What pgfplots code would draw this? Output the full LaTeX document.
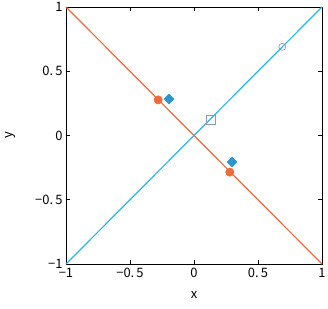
\documentclass[border=0pt]{standalone}
\usepackage{pgfplots}
\pgfplotsset{compat=1.18}
\usepackage{fontspec}
\setmainfont{Noto Sans CJK JP}
\definecolor{lorange}{HTML}{EE6A3A}
\definecolor{lblue}{HTML}{2AB4F0}
\definecolor{dblue}{HTML}{2A95D0}
\definecolor{sq}{HTML}{8A9AB0}
\definecolor{oc}{HTML}{7A8AD8}
\begin{document}
\begin{tikzpicture}[x=1bp,y=1bp]
\path[use as bounding box] (-66,-45) rectangle (262,264);
\begin{axis}[
  at={(0,0)}, anchor=south west,
  scale only axis, width=256bp, height=257bp,
  xmin=-1, xmax=1, ymin=-1, ymax=1,
  xtick={-1,-0.5,0,0.5,1}, ytick={-1,-0.5,0,0.5,1},
  xticklabels={−1,−0.\,5,0,0.\,5,1},
  yticklabels={−1,−0.\,5,0,0.\,5,1},
  tick align=inside, tick pos=both,
  major tick length=4bp,
  tick style={black, line width=0.6pt},
  axis line style={black, line width=0.7pt},
  ticklabel style={font=\fontsize{13}{13}\selectfont},
  label style={font=\fontsize{13}{13}\selectfont},
  xticklabel style={yshift=-1bp},
  xlabel={x}, ylabel={y},
  xlabel style={at={(axis description cs:0.5,0)}, anchor=north, yshift=-24bp},
  ylabel style={at={(axis description cs:0,0.5)}, anchor=south, yshift=47bp},
  clip=false,
]
\addplot[lorange, line width=1.2pt] coordinates {(-1,1) (1,-1)};
\addplot[lblue, line width=1.2pt] coordinates {(-1,-1) (1,1)};
\addplot[only marks, mark=*, mark size=4.2bp, mark options={fill=lorange, draw=lorange}] coordinates {(-0.28,0.277) (0.28,-0.285)};
\addplot[only marks, mark=square*, mark size=3.6bp, mark options={fill=dblue, draw=dblue, rotate=45}] coordinates {(-0.195,0.284) (0.297,-0.207)};
\addplot[only marks, mark=square, mark size=4.5bp, mark options={draw=sq, line width=0.6pt}] coordinates {(0.133,0.12)};
\addplot[only marks, mark=o, mark size=3.5bp, mark options={draw=oc, line width=0.6pt}] coordinates {(0.69,0.69)};
\end{axis}
\end{tikzpicture}
\end{document}
